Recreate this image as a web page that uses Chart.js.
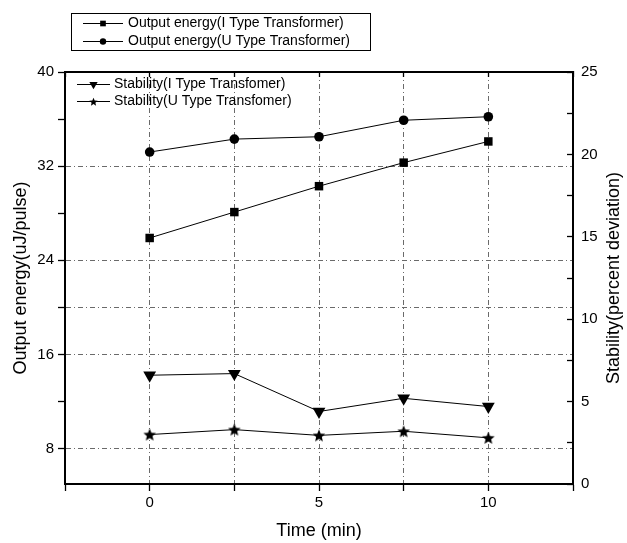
<!DOCTYPE html>
<html>
<head>
<meta charset="utf-8">
<title>Output energy and stability</title>
<script src="https://cdn.jsdelivr.net/npm/chart.js@4"></script>
<style>
  html, body { margin: 0; padding: 0; background: #fff; }
  #wrap { width: 627px; height: 543px; }
</style>
</head>
<body>
<div id="wrap"><canvas id="chart" width="627" height="543"></canvas></div>
<script>
// ---- data ----
const timeMin = [0, 2.5, 5, 7.5, 10];
const energyI = [25.9, 28.1, 30.3, 32.3, 34.1];   // uJ/pulse, I type
const energyU = [33.2, 34.3, 34.5, 35.9, 36.2];   // uJ/pulse, U type
const stabI = [6.6, 6.7, 4.4, 5.2, 4.7];          // percent deviation, I type
const stabU = [3.0, 3.3, 2.95, 3.2, 2.8];         // percent deviation, U type

const xTicks = [-2.5, 0, 2.5, 5, 7.5, 10, 12.5];
const xLabels = [0, 5, 10];
const yTicks = [8, 12, 16, 20, 24, 28, 32, 36, 40];
const yLabels = [8, 16, 24, 32, 40];
const yGrid = [8, 16, 20, 24, 32];
const y2Labels = [0, 5, 10, 15, 20, 25];

const FONT = "'Liberation Sans', Arial, Helvetica, sans-serif";
Chart.defaults.font.family = FONT;
Chart.defaults.color = '#000';

// filled five-point star, Chart.js only has an asterisk
function starCanvas(r) {
  const s = Math.ceil(r * 2 + 2);
  const c = document.createElement('canvas');
  c.width = c.height = s;
  const g = c.getContext('2d');
  g.fillStyle = '#000';
  g.beginPath();
  for (let i = 0; i < 10; i++) {
    const rr = i % 2 ? r * 0.45 : r;
    const a = -Math.PI / 2 + i * Math.PI / 5;
    g.lineTo(s / 2 + rr * Math.cos(a), s / 2 + 0.6 + rr * Math.sin(a));
  }
  g.closePath();
  g.fill();
  return c;
}
const star = starCanvas(6.6);
const starSmall = starCanvas(4.4);

const pts = ys => timeMin.map((x, i) => ({ x, y: ys[i] }));
const GRID = '#6a6a6a';
const DASH = [5, 3, 1, 3];

const series = [
  { label: 'Output energy(I Type Transformer)', data: pts(energyI), yAxisID: 'y', pointStyle: 'rect', pointRadius: 6, legendRadius: 4 },
  { label: 'Output energy(U Type Transformer)', data: pts(energyU), yAxisID: 'y', pointStyle: 'circle', pointRadius: 4.8, legendRadius: 3.2 },
  { label: 'Stability(I Type Transfomer)', data: pts(stabI), yAxisID: 'y2', pointStyle: 'triangle', rotation: 180, pointRadius: 7.4, legendRadius: 4.8 },
  { label: 'Stability(U Type Transfomer)', data: pts(stabU), yAxisID: 'y2', pointStyle: star, pointRadius: 6, legendStyle: starSmall, legendRadius: 4 }
].map(d => Object.assign({
  borderColor: '#000', backgroundColor: '#000', borderWidth: 1,
  pointBorderWidth: 0, pointBackgroundColor: '#000', pointRotation: d.rotation || 0,
  showLine: true, tension: 0
}, d));

function legendRow(ctx, ds, x0, x1, tx, y) {
  ctx.strokeStyle = '#000';
  ctx.lineWidth = 1;
  ctx.beginPath();
  ctx.moveTo(x0, y + 0.5); ctx.lineTo(x1, y + 0.5);
  ctx.stroke();
  ctx.fillStyle = '#000';
  Chart.helpers.drawPoint(ctx, {
    pointStyle: ds.legendStyle || ds.pointStyle, rotation: ds.rotation || 0,
    radius: ds.legendRadius, borderWidth: 0
  }, (x0 + x1) / 2, y + 0.5);
  ctx.fillText(ds.label, tx, y);
}

const decor = {
  id: 'decor',
  afterDraw(chart) {
    const ctx = chart.ctx;
    const ds = chart.data.datasets;
    ctx.save();
    ctx.font = '14px ' + FONT;
    ctx.textBaseline = 'middle';
    ctx.textAlign = 'left';
    // legend box above the plot
    ctx.strokeStyle = '#000';
    ctx.lineWidth = 1;
    ctx.strokeRect(71.5, 13.5, 299, 37);
    legendRow(ctx, ds[0], 83, 123, 128, 23);
    legendRow(ctx, ds[1], 83, 123, 128, 41);
    // legend inside the plot
    legendRow(ctx, ds[2], 77, 110, 114, 84);
    legendRow(ctx, ds[3], 77, 110, 114, 101);
    // right axis title, read from bottom to top
    const a = chart.chartArea;
    ctx.font = '18px ' + FONT;
    ctx.textAlign = 'center';
    ctx.translate(614, (a.top + a.bottom) / 2);
    ctx.rotate(-Math.PI / 2);
    ctx.fillText('Stability(percent deviation)', 0, 0);
    ctx.restore();
  }
};

const setTicks = list => s => { s.ticks = list.map(v => ({ value: v })); };

new Chart(document.getElementById('chart'), {
  type: 'scatter',
  data: { datasets: series },
  options: {
    responsive: false,
    animation: false,
    layout: { padding: { top: 72, left: 0, right: 0, bottom: 0 } },
    plugins: { legend: { display: false }, tooltip: { enabled: false } },
    scales: {
      x: {
        type: 'linear', position: 'bottom', min: -2.5, max: 12.5,
        afterBuildTicks: setTicks(xTicks),
        afterFit: s => { s.height = 59; },
        ticks: { font: { size: 15 }, padding: 3, maxRotation: 0, autoSkip: false,
          callback: v => xLabels.includes(v) ? v : '' },
        grid: { color: c => (c.tick && c.tick.value >= 0 && c.tick.value <= 10) ? GRID : 'rgba(0,0,0,0)',
          lineWidth: 1, tickColor: '#000', tickLength: 7, tickWidth: 1.3 },
        border: { color: '#000', width: 2, dash: DASH },
        title: { display: true, text: 'Time (min)', font: { size: 18 }, padding: { top: 0, bottom: 1 } }
      },
      x2: {
        type: 'linear', position: 'top', min: -2.5, max: 12.5,
        afterBuildTicks: setTicks(xTicks),
        afterFit: s => { s.height = 0; },
        ticks: { display: false },
        grid: { drawOnChartArea: false, tickColor: '#000', tickLength: -5, tickWidth: 1.3 },
        border: { color: '#000', width: 2 }
      },
      y: {
        type: 'linear', position: 'left', min: 5, max: 40,
        afterBuildTicks: setTicks(yTicks),
        afterFit: s => { s.width = 65; },
        ticks: { font: { size: 15 }, padding: 4, autoSkip: false,
          callback: v => yLabels.includes(v) ? v : '' },
        grid: { color: c => (c.tick && yGrid.includes(c.tick.value)) ? GRID : 'rgba(0,0,0,0)',
          lineWidth: 1, tickColor: '#000', tickLength: 7, tickWidth: 1.3 },
        border: { color: '#000', width: 2, dash: DASH },
        title: { display: true, text: 'Output energy(uJ/pulse)', font: { size: 18 }, padding: { top: 10, bottom: 0 } }
      },
      y2: {
        type: 'linear', position: 'right', min: 0, max: 25,
        afterBuildTicks: s => { s.ticks = []; for (let v = 0; v <= 25; v += 2.5) s.ticks.push({ value: v }); },
        afterFit: s => { s.width = 54; },
        ticks: { font: { size: 15 }, padding: 14, autoSkip: false,
          callback: v => y2Labels.includes(v) ? v : '' },
        grid: { drawOnChartArea: false, tickColor: '#000', tickLength: -6, tickWidth: 1.3 },
        border: { color: '#000', width: 2 }
      }
    }
  },
  plugins: [decor]
});
</script>
</body>
</html>
